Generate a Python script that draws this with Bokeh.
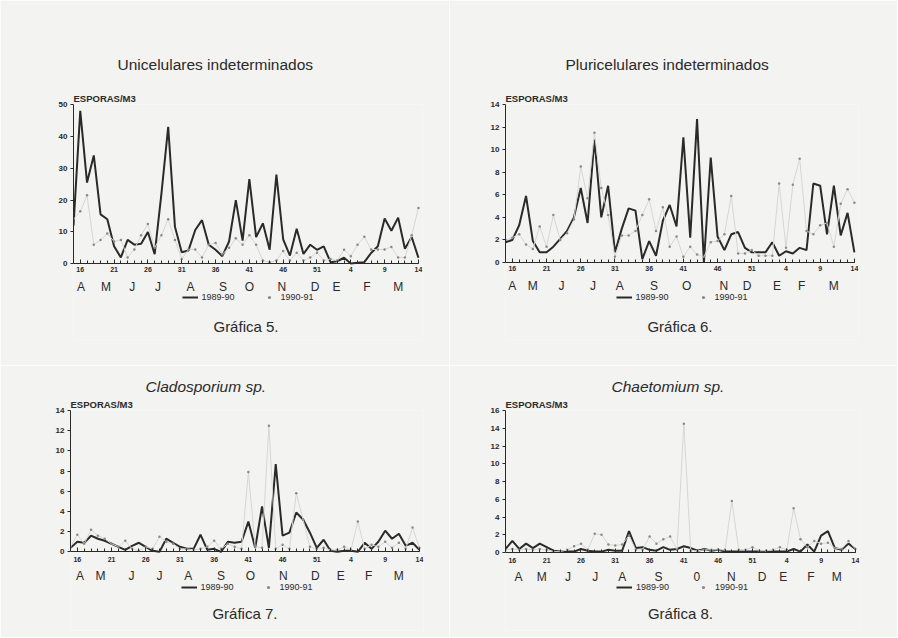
from bokeh.plotting import figure
from bokeh.models import Range1d, LinearAxis, FixedTicker, Title, Legend, LegendItem, Label
from bokeh.layouts import row, column
from bokeh.embed import file_html
from bokeh.resources import INLINE

# ---------------- data ----------------
weeks = list(range(15, 53)) + list(range(1, 15))          # 52 weekly samples
tick_weeks = [16, 21, 26, 31, 36, 41, 46, 51, 4, 9, 14]
months = ["A", "M", "J", "J", "A", "S", "O", "N", "D", "E", "F", "M"]
months_p4 = ["A", "M", "J", "J", "A", "S", "0", "N", "D", "E", "F", "M"]
series_names = ["1989-90", "1990-91"]

unicel_8990 = [12, 48, 25.5, 34, 15.5, 14, 5.5, 2, 7.5, 6, 6.3, 10, 3, 22, 43, 11.6, 3.6, 4.2,
               10.6, 13.7, 6, 4.4, 2.4, 7, 20, 7.3, 26.6, 8.4, 12.7, 4.4, 28, 7.7, 2.6, 11, 3.1,
               6, 4.4, 5.5, 0.5, 0.8, 1.9, 0.1, 0.3, 0.5, 3.4, 5.5, 14.2, 10.4, 14.5, 4.7, 8.4, 1.9]
unicel_9091 = [14, 16.5, 21.5, 6, 7.5, 9.5, 7, 7.5, 2, 4.5, 9, 12.5, 5, 9, 14, 7.5, 1.5, 4.5,
               4.5, 2, 6, 6.5, 3, 5, 8, 6, 9, 6, 1, 0.5, 1, 4, 1, 3.5, 1, 2, 3.5, 1, 1.5, 1,
               4.4, 2.4, 6, 8.5, 4.5, 4.5, 4.5, 5.3, 2, 2, 9, 17.5]

pluri_8990 = [1.8, 2.0, 3.3, 5.9, 1.9, 0.9, 0.9, 1.4, 2.1, 2.8, 4.0, 6.6, 3.5, 10.9, 4.0, 6.8,
              0.9, 3.0, 4.8, 4.6, 0.3, 1.9, 0.6, 3.7, 5.1, 3.2, 11.1, 2.2, 12.7, 0.0, 9.3, 2.3,
              1.1, 2.5, 2.7, 1.3, 0.9, 0.9, 0.9, 1.8, 0.6, 1.0, 0.8, 1.3, 1.1, 7.0, 6.8, 2.5,
              6.8, 2.4, 4.4, 0.9]
pluri_9091 = [2.0, 2.2, 2.5, 1.6, 1.2, 3.2, 1.4, 4.2, 2.0, 2.6, 3.8, 8.5, 5.7, 11.5, 6.6, 4.2,
              0.5, 2.4, 2.4, 2.8, 4.2, 5.6, 2.8, 4.9, 1.4, 2.3, 0.5, 1.4, 0.7, 0.5, 1.8, 1.9,
              2.5, 5.9, 0.8, 0.8, 1.1, 0.6, 0.6, 0.6, 7.0, 1.3, 6.9, 9.2, 2.8, 2.5, 3.3, 3.5,
              1.4, 5.2, 6.5, 5.3]

clado_8990 = [0.4, 1.0, 0.9, 1.6, 1.3, 1.1, 0.8, 0.5, 0.2, 0.6, 0.9, 0.5, 0.1, 0.0, 1.3, 0.9,
              0.5, 0.3, 0.3, 1.7, 0.2, 0.3, 0.0, 1.0, 0.9, 1.0, 3.0, 0.4, 4.5, 0.4, 8.7, 1.6,
              1.9, 3.9, 3.2, 1.9, 0.4, 1.2, 0.1, 0.0, 0.1, 0.1, 0.0, 0.9, 0.3, 1.0, 2.1, 1.3,
              1.8, 0.6, 0.9, 0.2]
clado_9091 = [0.5, 1.7, 0.8, 2.2, 1.6, 1.3, 0.8, 0.5, 1.1, 0.3, 0.1, 0.5, 0.3, 1.5, 1.0, 0.8,
              0.3, 0.3, 0.2, 0.3, 0.5, 1.1, 0.3, 0.8, 0.5, 0.3, 7.9, 0.5, 0.4, 12.5, 0.3, 0.7,
              0.3, 5.8, 3.2, 0.5, 0.3, 0.4, 0.2, 0.2, 0.5, 0.2, 3.0, 0.3, 0.7, 0.5, 1.0, 0.4,
              0.9, 0.3, 2.4, 0.4]

chaet_8990 = [0.4, 1.3, 0.4, 1.0, 0.5, 1.0, 0.6, 0.2, 0.1, 0.1, 0.1, 0.4, 0.2, 0.1, 0.1, 0.3,
              0.2, 0.2, 2.4, 0.5, 0.6, 0.3, 0.2, 0.6, 0.3, 0.4, 0.7, 0.5, 0.2, 0.4, 0.2, 0.3,
              0.1, 0.1, 0.1, 0.1, 0.1, 0.1, 0.1, 0.1, 0.1, 0.1, 0.4, 0.1, 0.9, 0.1, 1.9, 2.4,
              0.5, 0.3, 1.0, 0.4]
chaet_9091 = [0.3, 0.4, 0.3, 0.4, 0.3, 0.4, 0.3, 0.1, 0.1, 0.3, 0.7, 1.0, 0.3, 2.1, 2.0, 0.9,
              0.8, 0.9, 1.9, 0.3, 0.3, 1.8, 1.0, 1.5, 1.8, 0.3, 14.5, 0.2, 0.2, 0.3, 0.3, 0.3,
              0.3, 5.8, 0.3, 0.3, 0.6, 0.2, 0.2, 0.3, 0.6, 0.3, 5.0, 1.5, 0.6, 1.3, 1.0, 1.1,
              0.5, 0.4, 1.3, 0.4]

# ---------------- style ----------------
BG = "#f3f3f1"
INK = "#2a2a2a"
LIGHT_LINE = "#d6d6d6"
LIGHT_DOT = "#8a8a8a"
FONT = "Liberation Sans"

idx = list(range(len(weeks)))
tick_idx = [weeks.index(w) if w >= 15 else 38 + w - 1 for w in tick_weeks]


def panel(title, italic, dark, light, ymax, ystep, grafica, month_pos, month_labels, g):
    # g: pixel geometry of this panel (page == canvas coordinates)
    top, zero, fbot = g["top"], g["zero"], g["fbot"]

    def yval(ypx):          # pixel -> data units (used for text placement only)
        return ymax * (zero - ypx) / (zero - top)

    p = figure(width=g["w"], height=g["h"], output_backend="svg", toolbar_location=None,
               title=title,
               x_range=Range1d(0, 51.6), y_range=Range1d(yval(fbot), ymax),
               x_axis_type=None, y_axis_type=None,
               min_border_left=g["bl"], min_border_right=g["br"],
               min_border_top=top - g["y0"], min_border_bottom=g["y0"] + g["h"] - fbot,
               background_fill_color=BG, border_fill_color=BG, outline_line_color=None)
    p.grid.visible = False
    # main title (outermost)
    p.title.align = "left"
    p.title.offset = g["toff"]
    p.title.text_font = FONT
    p.title.text_font_size = "15.5px"
    p.title.text_font_style = "italic" if italic else "normal"
    p.title.text_color = INK
    p.title.standoff = g["tstand"]
    # unit label (next to the frame)
    p.add_layout(Title(text="ESPORAS/M3", align="left", text_font=FONT, text_font_size="9.5px",
                       text_font_style="bold", text_color=INK, standoff=1), "above")

    ya = LinearAxis(ticker=FixedTicker(ticks=list(range(0, ymax + 1, ystep))), bounds=(0, ymax),
                    axis_line_color=INK, axis_line_width=1,
                    major_tick_line_color=INK, major_tick_out=3, major_tick_in=0,
                    minor_tick_line_color=None,
                    major_label_text_font=FONT, major_label_text_font_size="8px",
                    major_label_text_font_style="bold", major_label_text_color=INK,
                    major_label_standoff=3)
    p.add_layout(ya, "left")

    xa = LinearAxis(ticker=FixedTicker(ticks=tick_idx, minor_ticks=idx), fixed_location=0,
                    bounds=(0, 51),
                    major_label_overrides={i: str(w) for i, w in zip(tick_idx, tick_weeks)},
                    axis_line_color=INK, axis_line_width=1,
                    major_tick_line_color=INK, major_tick_in=4, major_tick_out=0,
                    minor_tick_line_color=INK, minor_tick_in=3, minor_tick_out=0,
                    major_label_text_font=FONT, major_label_text_font_size="7px",
                    major_label_text_font_style="bold", major_label_text_color=INK,
                    major_label_standoff=g["tick_sd"])
    p.add_layout(xa, "below")

    ma = LinearAxis(ticker=FixedTicker(ticks=month_pos), fixed_location=0,
                    major_label_overrides={m: t for m, t in zip(month_pos, month_labels)},
                    axis_line_color=None, major_tick_line_color=None, minor_tick_line_color=None,
                    major_tick_in=0, major_tick_out=0,
                    major_label_text_font=FONT, major_label_text_font_size="12px",
                    major_label_text_color=INK, major_label_standoff=g["month_sd"])
    p.add_layout(ma, "below")

    r1 = p.line(idx, dark, line_color=INK, line_width=2)
    p.line(idx, light, line_color=LIGHT_LINE, line_width=1)
    r3 = p.scatter(idx, light, size=2.5, fill_color=LIGHT_DOT, line_color=None)

    leg = Legend(items=[LegendItem(label=series_names[0], renderers=[r1]),
                        LegendItem(label=series_names[1], renderers=[r3])],
                 orientation="horizontal", location="bottom_center",
                 background_fill_alpha=0, border_line_color=None,
                 label_text_font=FONT, label_text_font_size="9px", label_text_color=INK,
                 glyph_width=16, glyph_height=8, label_height=8, label_standoff=4, spacing=26,
                 padding=0, margin=int(fbot - g["leg"] - 5))
    p.add_layout(leg)

    p.add_layout(Label(x=25.5, y=yval(g["graf"]), text=grafica, text_font=FONT,
                       text_font_size="15px", text_color=INK,
                       text_align="center", text_baseline="middle"))
    return p


top_geo = dict(y0=0, h=365, zero=262, fbot=340, tick_sd=3, month_sd=16,
               leg=297, graf=326, tstand=35)
bot_geo = dict(y0=365, h=272, fbot=630, tick_sd=5, month_sd=17,
               leg=587, graf=613, tstand=4)

p1 = panel("Unicelulares indeterminados", False, unicel_8990, unicel_9091, 50, 10, "Gráfica 5.",
           [1.1, 4.8, 8.7, 12.5, 17.3, 22.1, 26.0, 30.8, 35.7, 38.9, 43.4, 48.0], months,
           dict(top_geo, w=449, top=100, bl=73, br=27, toff=44))
p2 = panel("Pluricelulares indeterminados", False, pluri_8990, pluri_9091, 14, 2, "Gráfica 6.",
           [1.0, 4.0, 8.2, 12.8, 16.7, 21.7, 26.5, 31.9, 35.3, 39.7, 43.3, 48.0], months,
           dict(top_geo, w=448, top=104, bl=56, br=39, toff=60))
p3 = panel("Cladosporium sp.", True, clado_8990, clado_9091, 14, 2, "Gráfica 7.",
           [1.4, 4.4, 8.9, 13.0, 17.2, 22.0, 26.3, 31.1, 35.8, 39.5, 43.6, 48.0], months,
           dict(bot_geo, w=449, top=409, zero=551, bl=70, br=26, toff=75))
p4 = panel("Chaetomium sp.", True, chaet_8990, chaet_9091, 16, 2, "Gráfica 8.",
           [1.9, 5.3, 9.1, 13.1, 17.0, 22.3, 27.9, 32.9, 37.4, 40.5, 44.5, 48.3], months_p4,
           dict(bot_geo, w=448, top=410, zero=552, bl=56, br=38, toff=106))

lay = column(row(p1, p2), row(p3, p4))
open("out.html", "w").write(file_html(lay, INLINE))
